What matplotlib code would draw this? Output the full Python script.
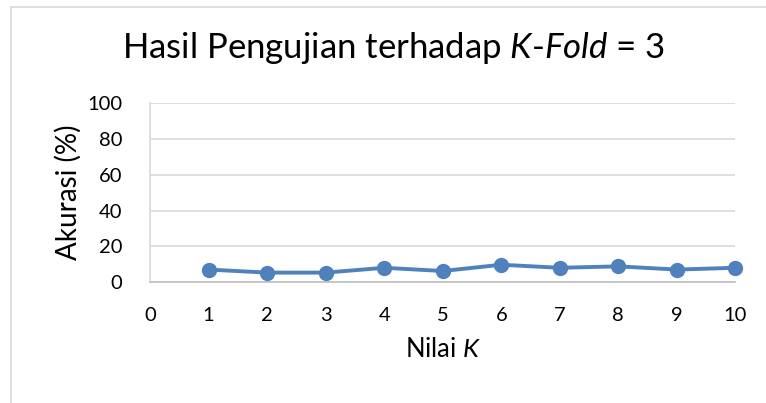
import matplotlib.pyplot as plt
from matplotlib.patches import Rectangle

# Data
k_values = [1, 2, 3, 4, 5, 6, 7, 8, 9, 10]
akurasi = [7.0, 5.3, 5.3, 8.0, 6.2, 9.7, 8.0, 8.8, 7.0, 8.0]
x_ticks = [0, 1, 2, 3, 4, 5, 6, 7, 8, 9, 10]
y_ticks = [0, 20, 40, 60, 80, 100]

plt.rcParams['font.family'] = ['Lato', 'DejaVu Sans']
plt.rcParams['mathtext.fontset'] = 'custom'
plt.rcParams['mathtext.rm'] = 'Lato'
plt.rcParams['mathtext.it'] = 'Lato:italic'

fig = plt.figure(figsize=(7.66, 4.03), dpi=100)
ax = fig.add_axes([0.196, 0.300, 0.764, 0.444])

# chart border like the Excel chart area
fig.patches.append(Rectangle((11 / 766, -0.1), 1.2, 1 - 7 / 403 + 0.1,
                             transform=fig.transFigure, fill=False,
                             edgecolor='#D9D9D9', linewidth=1.2))

ax.plot(k_values, akurasi, marker='o', color='#4F81BD', linewidth=2.8,
        markersize=10, clip_on=False, zorder=3)

ax.set_xlim(0, 10)
ax.set_ylim(0, 100)
ax.set_xticks(x_ticks)
ax.set_yticks(y_ticks)
ax.tick_params(length=0, labelsize=14.5, pad=18)
ax.tick_params(axis='y', pad=20)
ax.grid(True, axis='y', color='#D9D9D9', linewidth=1.2)
ax.set_axisbelow(True)
for s in ['top', 'right']:
    ax.spines[s].set_visible(False)
ax.spines['left'].set_color('#D9D9D9')
ax.spines['bottom'].set_color('#BFBFBF')
ax.spines['left'].set_linewidth(1.2)
ax.spines['bottom'].set_linewidth(1.2)

ax.set_xlabel('Nilai $\\mathit{K}$', fontsize=18.5, labelpad=9)
ax.set_ylabel('Akurasi (%)', fontsize=20, labelpad=4)
fig.text(0.514, 0.882, 'Hasil Pengujian terhadap $\\mathit{K}$-$\\mathit{Fold}$ = 3',
         ha='center', va='center', fontsize=25)

plt.savefig('out.png', dpi=100)
